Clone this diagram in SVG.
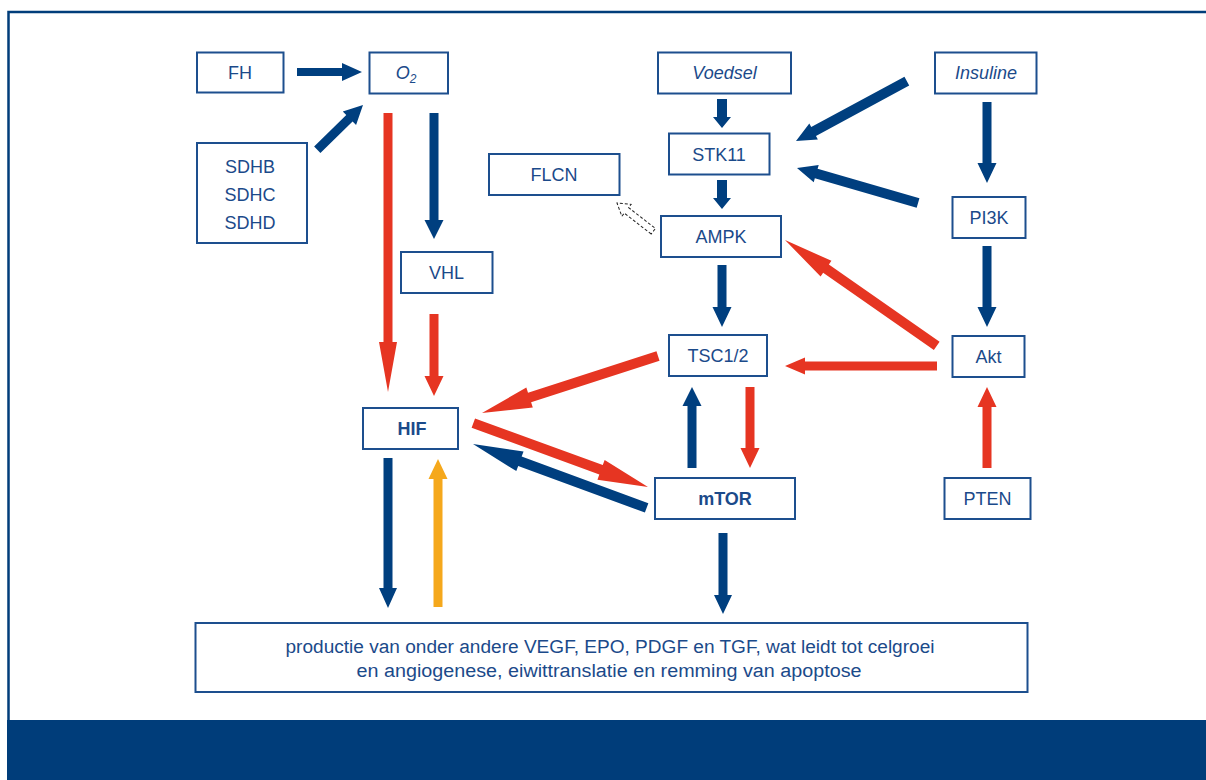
<svg xmlns="http://www.w3.org/2000/svg" width="1206" height="780" viewBox="0 0 1206 780">
<style>
.box{fill:#fff;stroke:#1d4f8e;stroke-width:2}
.lbl{font-family:"Liberation Sans",Arial,sans-serif;font-size:18px;fill:#1b4a8a;text-anchor:middle}
.b{font-weight:bold}
.i{font-style:italic}
.blue{fill:#003f7f}
.red{fill:#e63522}
.orange{fill:#f5a81c}
.dash{fill:#fff;stroke:#222;stroke-width:1;stroke-dasharray:3,2}
</style>
<rect x="0" y="0" width="1206" height="780" fill="#fff"/>
<rect x="8.5" y="12" width="1200" height="715" fill="none" stroke="#003d7a" stroke-width="2.5"/>
<rect x="7" y="720" width="1199" height="60" fill="#003d7a"/>

<g id="connectors">
  <!-- FH -> O2 -->
  <polygon class="blue" transform="translate(362,72)" points="-65,-4 -20,-4 -20,-9 0,0 -20,9 -20,4 -65,4"/>
  <!-- SDH -> O2 -->
  <polygon class="blue" transform="translate(363,105) rotate(-44.4)" points="-64,-4.5 -19,-4.5 -19,-9.5 0,0 -19,9.5 -19,4.5 -64,4.5"/>
  <!-- O2 -> HIF red -->
  <polygon class="red" transform="translate(388,392) rotate(90)" points="-279,-4.5 -50,-4.5 -50,-9 0,0 -50,9 -50,4.5 -279,4.5"/>
  <!-- O2 -> VHL -->
  <polygon class="blue" transform="translate(434,239) rotate(90)" points="-126,-4.5 -19,-4.5 -19,-9.5 0,0 -19,9.5 -19,4.5 -126,4.5"/>
  <!-- VHL -> HIF -->
  <polygon class="red" transform="translate(434,396) rotate(90)" points="-82,-4.5 -20,-4.5 -20,-9.5 0,0 -20,9.5 -20,4.5 -82,4.5"/>
  <!-- HIF -> bottom -->
  <polygon class="blue" transform="translate(388,608) rotate(90)" points="-150,-4.5 -20,-4.5 -20,-9 0,0 -20,9 -20,4.5 -150,4.5"/>
  <!-- bottom -> HIF orange -->
  <polygon class="orange" transform="translate(438,459) rotate(-90)" points="-148,-4.5 -20,-4.5 -20,-9.5 0,0 -20,9.5 -20,4.5 -148,4.5"/>
  <!-- TSC -> HIF -->
  <polygon class="red" transform="translate(482,413) rotate(162.05)" points="-185,-5 -50,-5 -50,-10.5 0,0 -50,10.5 -50,5 -185,5"/>
  <!-- HIF -> mTOR -->
  <polygon class="red" transform="translate(648,487) rotate(20.1)" points="-186,-5 -50,-5 -50,-10.5 0,0 -50,10.5 -50,5 -186,5"/>
  <!-- mTOR -> HIF -->
  <polygon class="blue" transform="translate(473,444) rotate(200.2)" points="-185,-5 -50,-5 -50,-10.5 0,0 -50,10.5 -50,5 -185,5"/>
  <!-- mTOR -> TSC -->
  <polygon class="blue" transform="translate(692,387) rotate(-90)" points="-81,-4.5 -19,-4.5 -19,-9.5 0,0 -19,9.5 -19,4.5 -81,4.5"/>
  <!-- TSC -> mTOR -->
  <polygon class="red" transform="translate(750,468) rotate(90)" points="-81,-4.5 -20,-4.5 -20,-9.5 0,0 -20,9.5 -20,4.5 -81,4.5"/>
  <!-- mTOR -> bottom -->
  <polygon class="blue" transform="translate(723,614) rotate(90)" points="-81,-4.5 -19,-4.5 -19,-9 0,0 -19,9 -19,4.5 -81,4.5"/>
  <!-- Voedsel -> STK11 -->
  <polygon class="blue" transform="translate(722,128) rotate(90)" points="-29,-5 -11,-5 -11,-9 0,0 -11,9 -11,5 -29,5"/>
  <!-- STK11 -> AMPK -->
  <polygon class="blue" transform="translate(722,209) rotate(90)" points="-29,-5 -11,-5 -11,-9 0,0 -11,9 -11,5 -29,5"/>
  <!-- AMPK -> TSC -->
  <polygon class="blue" transform="translate(722,327) rotate(90)" points="-62,-4.5 -20,-4.5 -20,-9.5 0,0 -20,9.5 -20,4.5 -62,4.5"/>
  <!-- Insuline -> STK11 -->
  <polygon class="blue" transform="translate(796,141) rotate(151.6)" points="-126,-5 -20,-5 -20,-9 0,0 -20,9 -20,5 -126,5"/>
  <!-- PI3K -> STK11 -->
  <polygon class="blue" transform="translate(797,168) rotate(-163.9)" points="-126,-5 -20,-5 -20,-9 0,0 -20,9 -20,5 -126,5"/>
  <!-- Insuline -> PI3K -->
  <polygon class="blue" transform="translate(987,183) rotate(90)" points="-81,-4.5 -20,-4.5 -20,-9.5 0,0 -20,9.5 -20,4.5 -81,4.5"/>
  <!-- PI3K -> Akt -->
  <polygon class="blue" transform="translate(987,327) rotate(90)" points="-81,-4.5 -20,-4.5 -20,-9.5 0,0 -20,9.5 -20,4.5 -81,4.5"/>
  <!-- Akt -> AMPK -->
  <polygon class="red" transform="translate(785,240) rotate(-145.1)" points="-185,-5 -50,-5 -50,-9.5 0,0 -50,9.5 -50,5 -185,5"/>
  <!-- Akt -> TSC -->
  <polygon class="red" transform="translate(785,366) rotate(180)" points="-152,-4.5 -20,-4.5 -20,-8.5 0,0 -20,8.5 -20,4.5 -152,4.5"/>
  <!-- PTEN -> Akt -->
  <polygon class="red" transform="translate(987,387) rotate(-90)" points="-81,-4.5 -20,-4.5 -20,-9.5 0,0 -20,9.5 -20,4.5 -81,4.5"/>
  <!-- AMPK -> FLCN dashed -->
  <polygon class="dash" transform="translate(617,203) rotate(-142.1)" points="-46,-3.5 -12,-3.5 -12,-7.5 0,0 -12,7.5 -12,3.5 -46,3.5"/>
</g>

<g id="node-fh"><rect class="box" x="197" y="52.5" width="86.5" height="40"/><text class="lbl" x="240" y="79">FH</text></g>
<g id="node-o2"><rect class="box" x="369.5" y="52.5" width="78.5" height="41"/><text class="lbl i" x="406" y="79">O<tspan font-size="12" dy="4">2</tspan></text></g>
<g id="node-sdh"><rect class="box" x="197" y="143" width="110" height="100"/>
  <text class="lbl" x="250" y="172.5">SDHB</text>
  <text class="lbl" x="250" y="201">SDHC</text>
  <text class="lbl" x="250" y="229">SDHD</text></g>
<g id="node-vhl"><rect class="box" x="401" y="252" width="91.5" height="41"/><text class="lbl" x="446.5" y="279">VHL</text></g>
<g id="node-hif"><rect class="box" x="363" y="408" width="95" height="41"/><text class="lbl b" x="412" y="434.5">HIF</text></g>
<g id="node-voedsel"><rect class="box" x="658" y="52.5" width="133" height="41"/><text class="lbl i" x="724.5" y="79">Voedsel</text></g>
<g id="node-stk11"><rect class="box" x="669" y="133.5" width="100.5" height="41"/><text class="lbl" x="719" y="160.5">STK11</text></g>
<g id="node-flcn"><rect class="box" x="489" y="154" width="130.5" height="41"/><text class="lbl" x="554" y="181">FLCN</text></g>
<g id="node-ampk"><rect class="box" x="661" y="216" width="120" height="41"/><text class="lbl" x="721" y="242.5">AMPK</text></g>
<g id="node-insuline"><rect class="box" x="935" y="52.5" width="101.5" height="41"/><text class="lbl i" x="986" y="79">Insuline</text></g>
<g id="node-pi3k"><rect class="box" x="952.5" y="197" width="73" height="41"/><text class="lbl" x="989" y="223.5">PI3K</text></g>
<g id="node-tsc"><rect class="box" x="669" y="335" width="98" height="41"/><text class="lbl" x="718" y="361.5">TSC1/2</text></g>
<g id="node-akt"><rect class="box" x="952.5" y="336" width="72" height="41"/><text class="lbl" x="988.5" y="362.5">Akt</text></g>
<g id="node-mtor"><rect class="box" x="655" y="478" width="140" height="41"/><text class="lbl b" x="725" y="505">mTOR</text></g>
<g id="node-pten"><rect class="box" x="944.5" y="478" width="86" height="41"/><text class="lbl" x="987.5" y="504.5">PTEN</text></g>
<g id="node-output"><rect class="box" x="195.5" y="623" width="832" height="69"/>
  <text class="lbl" x="610" y="652.5" textLength="649" lengthAdjust="spacingAndGlyphs">productie van onder andere VEGF, EPO, PDGF en TGF, wat leidt tot celgroei</text>
  <text class="lbl" x="609" y="676.5" textLength="505" lengthAdjust="spacingAndGlyphs">en angiogenese, eiwittranslatie en remming van apoptose</text></g>
</svg>
